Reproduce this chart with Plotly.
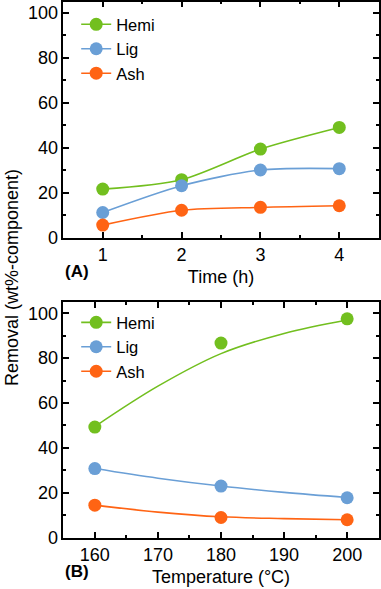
import plotly.graph_objects as go

# ---- Data ----
time_h = [1, 2, 3, 4]
hemi_time = [21.6, 25.8, 39.4, 49.0]
lig_time = [11.2, 23.1, 30.1, 30.7]
ash_time = [5.6, 12.2, 13.5, 14.2]

temp_c = [160, 180, 200]
hemi_temp = [49.3, 86.7, 97.5]
lig_temp = [30.8, 23.0, 17.8]
ash_temp = [14.5, 9.0, 8.0]

# fitted trend curves
fit_temp = [160, 170, 180, 190, 200]
hemi_fit = [49.5, 67.5, 82.0, 91.0, 97.0]
lig_fit = [30.8, 26.5, 23.0, 20.2, 17.9]
ash_fit = [14.5, 11.4, 9.3, 8.5, 8.0]

names = ["Hemi", "Lig", "Ash"]
colors = ["#72bf1f", "#6a9fd6", "#ff6414"]

FONT = "Liberation Sans, Arial, sans-serif"

fig = go.Figure()

# Panel A
for name, col, ys in zip(names, colors, [hemi_time, lig_time, ash_time]):
    fig.add_trace(go.Scatter(
        x=time_h, y=ys, name=name, mode="lines+markers",
        line=dict(color=col, width=1.6, shape="spline", smoothing=0.8),
        marker=dict(color=col, size=13),
        xaxis="x", yaxis="y", legend="legend"))

# Panel B: fitted lines, measured points, and legend entries
for name, col, fy, py in zip(names, colors, [hemi_fit, lig_fit, ash_fit],
                             [hemi_temp, lig_temp, ash_temp]):
    fig.add_trace(go.Scatter(
        x=fit_temp, y=fy, name=name, mode="lines",
        line=dict(color=col, width=1.6, shape="spline", smoothing=1.0),
        xaxis="x2", yaxis="y2", showlegend=False))
    fig.add_trace(go.Scatter(
        x=temp_c, y=py, name=name, mode="markers",
        marker=dict(color=col, size=13),
        xaxis="x2", yaxis="y2", showlegend=False))
    fig.add_trace(go.Scatter(
        x=[None], y=[None], name=name, mode="lines+markers",
        line=dict(color=col, width=1.6), marker=dict(color=col, size=13),
        xaxis="x2", yaxis="y2", legend="legend2"))

axis_common = dict(
    showline=True, linecolor="black", linewidth=1.5, mirror="ticks",
    ticks="inside", ticklen=6, tickwidth=1.5, tickcolor="black",
    showgrid=False, zeroline=False,
    tickfont=dict(family=FONT, size=18, color="black"),
    automargin=False,
)
minor_common = dict(ticklen=3, tickwidth=1.5, ticks="inside", tickcolor="black", showgrid=False)

x0, x1 = 63.3 / 381, 378.7 / 381
yA = [1 - 237.7 / 589, 1 - 1.5 / 589]
yB = [1 - 537.7 / 589, 1 - 302 / 589]

fig.update_layout(
    width=381, height=589,
    margin=dict(l=0, r=0, t=0, b=0),
    paper_bgcolor="white", plot_bgcolor="white",
    font=dict(family=FONT, size=18, color="black"),
    xaxis=dict(axis_common, domain=[x0, x1], anchor="y", range=[0.5, 4.5],
               tickvals=time_h, minor=dict(minor_common, dtick=0.5),
               title=dict(text="Time (h)", standoff=6, font=dict(size=18))),
    yaxis=dict(axis_common, domain=yA, anchor="x", range=[0, 105], dtick=20,
               minor=dict(minor_common, dtick=10)),
    xaxis2=dict(axis_common, domain=[x0, x1], anchor="y2", range=[155, 205], dtick=10,
                minor=dict(minor_common, dtick=5),
                title=dict(text="Temperature (°C)", standoff=6, font=dict(size=18))),
    yaxis2=dict(axis_common, domain=yB, anchor="x2", range=[0, 105], dtick=20,
                minor=dict(minor_common, dtick=10)),
    legend=dict(x=0.2, y=0.988, xanchor="left", yanchor="top",
                font=dict(family=FONT, size=16.5), bgcolor="rgba(0,0,0,0)",
                tracegroupgap=0, itemwidth=30),
    legend2=dict(x=0.2, y=0.482, xanchor="left", yanchor="top",
                 font=dict(family=FONT, size=16.5), bgcolor="rgba(0,0,0,0)",
                 tracegroupgap=0, itemwidth=30),
    annotations=[
        dict(text="Removal (wt%-component)", x=12 / 381, y=1 - 278 / 589,
             xref="paper", yref="paper", textangle=-90, showarrow=False,
             xanchor="center", yanchor="middle", font=dict(size=18)),
        dict(text="<b>(A)</b>", x=63 / 381, y=1 - 272 / 589, xref="paper", yref="paper",
             showarrow=False, xanchor="left", yanchor="middle", font=dict(size=17)),
        dict(text="<b>(B)</b>", x=63 / 381, y=1 - 571 / 589, xref="paper", yref="paper",
             showarrow=False, xanchor="left", yanchor="middle", font=dict(size=17)),
    ],
)

fig.write_html("out.html", config={"displayModeBar": False},
               post_script="document.body.style.margin='0px';")
